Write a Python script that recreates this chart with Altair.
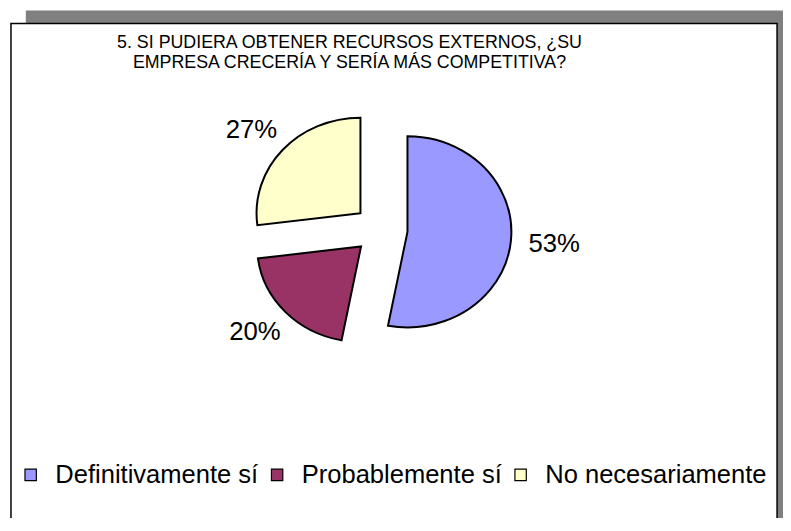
import altair as alt
import pandas as pd

# ---- data ----
categories = ["Definitivamente sí", "Probablemente sí", "No necesariamente"]
percents = [53, 20, 27]
colors = ["#9999FF", "#993366", "#FFFFCC"]
title_lines = [
    "5. SI PUDIERA OBTENER RECURSOS EXTERNOS, ¿SU",
    "EMPRESA CRECERÍA Y SERÍA MÁS COMPETITIVA?",
]

# ---- layout (pixels, chart coordinates) ----
W, H = 783, 510
CX, CY = 376.5, 221.2   # pie centre
RY = 96.5               # vertical pie radius
SX = 1.088              # the original picture is stretched horizontally
EXPLODE = 25            # explosion distance of each slice
FONT = "Liberation Sans"
SIZE = (2 * RY) ** 2    # custom symbol paths span [-1, 1] -> sqrt(size)

df = pd.DataFrame({"cat": categories, "pct": percents, "order": list(range(len(categories)))})


def r4(e):
    return f"(round(({e}) * 10000) / 10000)"


path_expr = (
    "'M0,0L' + " + r4(f"{SX} * sin(datum.a0)") + " + ',' + " + r4("-cos(datum.a0)")
    + f" + 'A{SX},1 0 ' + (datum.a1 - datum.a0 > PI ? 1 : 0) + ',1 ' + "
    + r4(f"{SX} * sin(datum.a1)") + " + ',' + " + r4("-cos(datum.a1)") + " + 'Z'"
)

base = (
    alt.Chart(df)
    .transform_joinaggregate(total="sum(pct)")
    .transform_window(cum="sum(pct)", sort=[alt.SortField("order")])
    .transform_calculate(
        a0="(datum.cum - datum.pct) / datum.total * 2 * PI",
        a1="datum.cum / datum.total * 2 * PI",
    )
    .transform_calculate(mid="(datum.a0 + datum.a1) / 2")
    .transform_calculate(
        px=f"{CX} + {EXPLODE} * {SX} * sin(datum.mid)",
        py=f"{CY} - {EXPLODE} * cos(datum.mid)",
        lx=f"{CX} + 2 + 166 * sin(datum.mid) + 8 * (sin(datum.mid) > 0 ? 1 : -1)",
        ly=f"{CY} - 152 * cos(datum.mid)",
        label="datum.pct + '%'",
        path=path_expr,
    )
)

slices = base.mark_point(
    filled=True, opacity=1, stroke="black", strokeWidth=2, strokeJoin="miter"
).encode(
    x=alt.X("px:Q", scale=None, axis=None),
    y=alt.Y("py:Q", scale=None, axis=None),
    shape=alt.Shape("path:N", scale=None),
    size=alt.value(SIZE),
    color=alt.Color(
        "cat:N",
        scale=alt.Scale(domain=categories, range=colors),
        sort=categories,
        legend=alt.Legend(
            orient="none",
            legendX=10,
            legendY=456,
            direction="horizontal",
            title=None,
            symbolType="square",
            symbolSize=132,
            symbolStrokeColor="black",
            symbolStrokeWidth=1.2,
            symbolOpacity=1,
            labelFont=FONT,
            labelFontSize=25.8,
            labelColor="black",
            labelOffset=12,
            labelLimit=400,
            columnPadding=6,
            padding=0,
        ),
    ),
)

labels = base.mark_text(
    font=FONT, fontSize=26, align="center", baseline="middle", color="black"
).encode(
    x=alt.X("lx:Q", scale=None, axis=None),
    y=alt.Y("ly:Q", scale=None, axis=None),
    text="label:N",
)

one = pd.DataFrame({"k": [0]})

shadow = alt.Chart(one).mark_rect(color="#808080").encode(
    x=alt.value(18), x2=alt.value(W + 5), y=alt.value(0), y2=alt.value(H + 5)
)
frame = alt.Chart(one).mark_rect(fill="white", stroke="black", strokeWidth=1.5).encode(
    x=alt.value(3), x2=alt.value(777), y=alt.value(13), y2=alt.value(H + 5)
)
title = alt.Chart(one).mark_text(
    font=FONT, fontSize=18, lineHeight=20, align="center", baseline="alphabetic", color="black"
).encode(x=alt.value(345), y=alt.value(38.2), text=alt.value(title_lines))

chart = (
    alt.layer(shadow, frame, slices, labels, title)
    .properties(width=W, height=H, padding=0, autosize="none", background="white")
    .configure_view(stroke="transparent")
)

chart.save("out.html", embed_options={"renderer": "svg", "actions": False})
